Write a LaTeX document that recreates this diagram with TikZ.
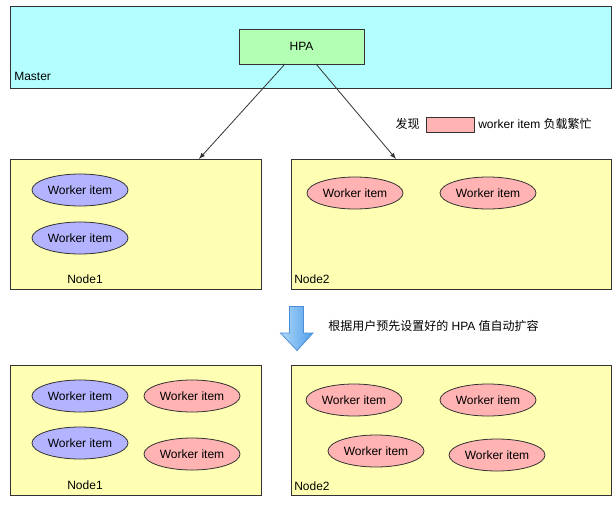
\documentclass[tikz,border=0pt]{standalone}
\usepackage{fontspec}
\setmainfont{Liberation Sans}
\newfontfamily\cjk{Noto Sans CJK SC}
\usepackage{tikz}
\usetikzlibrary{calc, shapes.geometric}

\definecolor{mastercol}{HTML}{B3FFFF}
\definecolor{hpacol}{HTML}{B3FFB3}
\definecolor{nodecol}{HTML}{FFFFB3}
\definecolor{idlecol}{HTML}{B3B3FF}
\definecolor{busycol}{HTML}{FFB3B3}
\definecolor{linecol}{HTML}{333333}
\definecolor{arrowlight}{HTML}{B0D8F8}
\definecolor{arrowdark}{HTML}{4F9FEA}
\definecolor{arrowedge}{HTML}{4A8FD8}

\tikzset{
  box/.style={draw=linecol, line width=0.75pt, inner sep=0pt, outer sep=0pt},
  master/.style={box, fill=mastercol, minimum width=450.75pt, minimum height=61.5pt},
  hpabox/.style={box, fill=hpacol, minimum width=93.75pt, minimum height=26.25pt},
  smallbox/.style={box, fill=nodecol, minimum width=188.25pt, minimum height=97.5pt},
  bigbox/.style={box, fill=nodecol, minimum width=240pt, minimum height=97.5pt},
  worker/.style={ellipse, draw=linecol, line width=0.6pt, inner sep=0pt, minimum width=72pt, minimum height=24pt},
  idle/.style={worker, fill=idlecol},
  busy/.style={worker, fill=busycol},
  label/.style={inner sep=0pt}
}

\begin{document}
\begin{tikzpicture}[x=0.75pt, y=-0.75pt, font=\fontsize{9pt}{11pt}\selectfont]
      \useasboundingbox (0,0) rectangle (616,504);

      % master
      \node[master] (master) at (310.5,47) {};
      \node[label, anchor=west] (mlabel) at (14,76) {Master};
      \node[hpabox] (hpa) at (301.5,46.5) {HPA};

      % first row
      \node[smallbox] (n1) at (135.5,224) {};
      \node[bigbox] (n2) at (451,224) {};
      \node[label] (n1label) at (85,279) {Node1};
      \node[label, anchor=west] (n2label) at (294,279) {Node2};

      \node[idle] (w1) at (80,190) {Worker item};
      \node[idle] (w2) at (80,238) {Worker item};
      \node[busy] (w3) at (355,193) {Worker item};
      \node[busy] (w4) at (488,193) {Worker item};

      \draw[-latex, linecol, line width=0.6pt] ($(hpa.south)+(-16.5,0)$) -- ($(n1.north)+(63.5,0)$);
      \draw[-latex, linecol, line width=0.6pt] ($(hpa.south)+(14.5,0)$) -- ($(n2.north)+(-55,0)$);

      % legend
      \node[label, anchor=east] (found) at (420,124) {\cjk 发现};
      \node[box, fill=busycol, line width=0.6pt, minimum width=36pt, minimum height=11.25pt] (legend) at (450,124.5) {};
      \node[label, anchor=west] (busytext) at (478,124) {worker item {\cjk 负载繁忙}};

      % scale arrow
      \draw[arrowedge, line width=0.6pt, left color=arrowlight, right color=arrowdark]
        (289.5,306.5) -- (303.5,306.5) -- (303.5,333) -- (313,333) -- (297,350.5)
        -- (280.5,333) -- (289.5,333) -- cycle;
      \node[label, anchor=west] (scaletext) at (328,326) {{\cjk 根据用户预先设置好的} HPA {\cjk 值自动扩容}};

      % second row
      \node[smallbox] (m1) at (135.5,430) {};
      \node[bigbox] (m2) at (451,430) {};
      \node[label] (m1label) at (85,485) {Node1};
      \node[label, anchor=west] (m2label) at (294,486) {Node2};

      \node[idle] (v1) at (80,396) {Worker item};
      \node[idle] (v2) at (80,443) {Worker item};
      \node[busy] (v3) at (192,396) {Worker item};
      \node[busy] (v4) at (192,454) {Worker item};

      \node[busy] (v5) at (354,400) {Worker item};
      \node[busy] (v6) at (488,400) {Worker item};
      \node[busy] (v7) at (376,451) {Worker item};
      \node[busy] (v8) at (497,455) {Worker item};

    \end{tikzpicture}
\end{document}
